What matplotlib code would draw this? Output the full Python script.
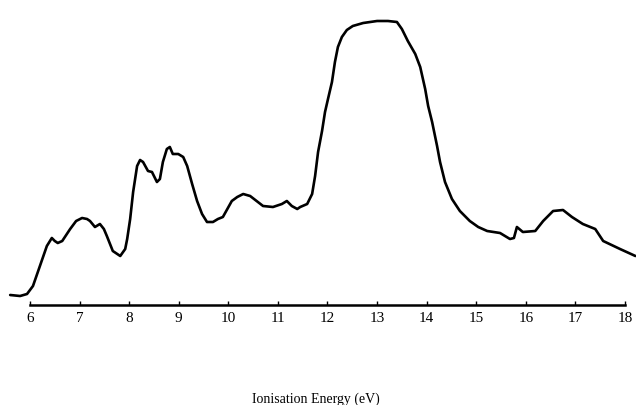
import matplotlib.pyplot as plt

# -------------------------------
# DATA
# -------------------------------
energy = [5.60, 5.80, 5.94, 6.06, 6.20, 6.34, 6.44, 6.50, 6.56, 6.65,
          6.81, 6.93, 7.05, 7.15, 7.21, 7.31, 7.41, 7.49, 7.55, 7.67,
          7.82, 7.92, 7.96, 8.02, 8.08, 8.16, 8.22, 8.28, 8.38, 8.46,
          8.56, 8.62, 8.68, 8.76, 8.82, 8.88, 8.99, 9.09, 9.17, 9.27,
          9.37, 9.47, 9.57, 9.69, 9.79, 9.89, 10.07, 10.18, 10.30, 10.44,
          10.57, 10.70, 10.90, 11.08, 11.18, 11.28, 11.39, 11.45, 11.59, 11.69,
          11.75, 11.81, 11.89, 11.95, 12.01, 12.09, 12.15, 12.21, 12.29, 12.39,
          12.51, 12.72, 13.00, 13.22, 13.40, 13.50, 13.62, 13.77, 13.87, 13.97,
          14.03, 14.11, 14.21, 14.27, 14.37, 14.51, 14.67, 14.87, 15.04, 15.22,
          15.48, 15.68, 15.76, 15.82, 15.94, 16.19, 16.35, 16.55, 16.75, 16.93,
          17.15, 17.40, 17.56, 17.90, 18.21]
counts = [10, 9, 11, 19, 39, 59, 67, 64, 62, 64,
          76, 84, 87, 86, 84, 78, 81, 76, 69, 54,
          49, 56, 66, 86, 113, 139, 145, 143, 134, 133,
          123, 126, 143, 156, 158, 151, 151, 148, 139, 121,
          104, 91, 83, 83, 86, 88, 104, 108, 111, 109,
          104, 99, 98, 101, 104, 99, 96, 98, 101, 111,
          129, 153, 174, 193, 206, 223, 243, 258, 268, 275,
          279, 282, 284, 284, 283, 276, 264, 251, 238, 216,
          199, 183, 159, 143, 123, 106, 94, 84, 78, 74,
          72, 66, 67, 78, 73, 74, 84, 94, 95, 88,
          81, 76, 64, 56, 49]

ticks = list(range(6, 19))
xlabel = "Ionisation Energy (eV)"

# -------------------------------
# PLOT
# -------------------------------
fig = plt.figure(figsize=(6.36, 4.06), dpi=100)
ax = fig.add_axes([0, 100 / 406, 1, 306 / 406])

ax.plot(energy, counts, color="black", lw=1.9,
        solid_joinstyle="round", solid_capstyle="round")

ax.set_xlim(5.395, 18.222)
ax.set_ylim(0, 306)

for s in ["left", "top", "right"]:
    ax.spines[s].set_visible(False)
ax.spines["bottom"].set_bounds(6, 18)
ax.spines["bottom"].set_linewidth(1.8)
ax.set_yticks([])
ax.set_xticks(ticks)
ax.set_xticklabels([str(t) for t in ticks], family="Liberation Serif",
                   fontsize=11)
ax.tick_params(axis="x", direction="in", length=3, width=1, pad=4)

fig.text(316 / 636, 3.5 / 406, xlabel, family="Liberation Serif",
         fontsize=10, ha="center", va="baseline")

fig.savefig("out.png", dpi=100)
